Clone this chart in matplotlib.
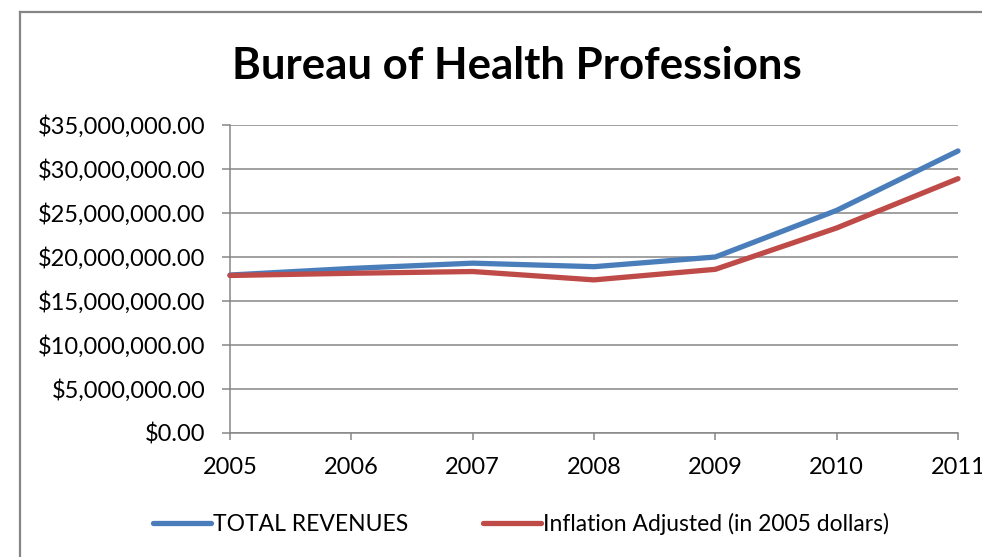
import matplotlib
matplotlib.use("Agg")
import matplotlib.pyplot as plt
from matplotlib.lines import Line2D
from matplotlib.ticker import FuncFormatter

years = ["2005", "2006", "2007", "2008", "2009", "2010", "2011"]
total_revenues = [17.95e6, 18.7e6, 19.3e6, 18.9e6, 20.0e6, 25.3e6, 32.05e6]
inflation_adjusted = [17.9e6, 18.15e6, 18.35e6, 17.4e6, 18.6e6, 23.3e6, 28.9e6]
title = "Bureau of Health Professions"
series_names = ["TOTAL REVENUES", "Inflation Adjusted (in 2005 dollars)"]

plt.rcParams['font.family'] = ['Lato', 'DejaVu Sans']

W, H = 982, 557
fig = plt.figure(figsize=(W / 100, H / 100), dpi=100)
fig.patch.set_facecolor('white')

# outer chart border (left and top edges only; rest lies outside the image)
fig.lines.append(Line2D([19.5 / W, 19.5 / W], [0, 1 - 12 / H], transform=fig.transFigure,
                        color='#868686', lw=1.6))
fig.lines.append(Line2D([19.5 / W, 1], [1 - 12 / H, 1 - 12 / H], transform=fig.transFigure,
                        color='#868686', lw=1.6))

ax = fig.add_axes([230 / W, 1 - 433 / H, (958 - 230) / W, (433 - 125) / H])
x = list(range(len(years)))
ax.plot(x, total_revenues, color='#4A7EBB', lw=3.8, solid_capstyle='round',
        label=series_names[0], zorder=3, clip_on=False)
ax.plot(x, inflation_adjusted, color='#BE4B48', lw=3.8, solid_capstyle='round',
        label=series_names[1], zorder=3, clip_on=False)

ax.set_xlim(0, len(years) - 1)
ax.set_ylim(0, 35e6)
ax.set_yticks([i * 5e6 for i in range(8)])
ax.yaxis.set_major_formatter(FuncFormatter(lambda v, p: "${:,.2f}".format(v)))
ax.set_xticks(x)
ax.set_xticklabels(years)

ax.grid(axis='y', color='#868686', lw=1.1)
ax.set_axisbelow(True)
for s in ['top', 'right']:
    ax.spines[s].set_visible(False)
for s in ['left', 'bottom']:
    ax.spines[s].set_color('#868686')
    ax.spines[s].set_linewidth(1.1)
ax.tick_params(axis='y', direction='out', length=5.8, width=1.1, color='#868686',
               labelsize=17, pad=12, labelcolor='black')
ax.tick_params(axis='x', direction='out', length=5, width=1.1, color='#868686',
               labelsize=17, pad=12, labelcolor='black')

fig.text(517 / W, 1 - 66 / H, title, ha='center', va='center',
         fontsize=31.5, fontweight='bold')

fig.legend(loc='center', bbox_to_anchor=(521 / W, 1 - 524 / H), ncol=2,
           frameon=False, fontsize=16.5, handlelength=2.5, handletextpad=0.08,
           columnspacing=3.3)

fig.savefig('out.png', dpi=100, facecolor='white')
